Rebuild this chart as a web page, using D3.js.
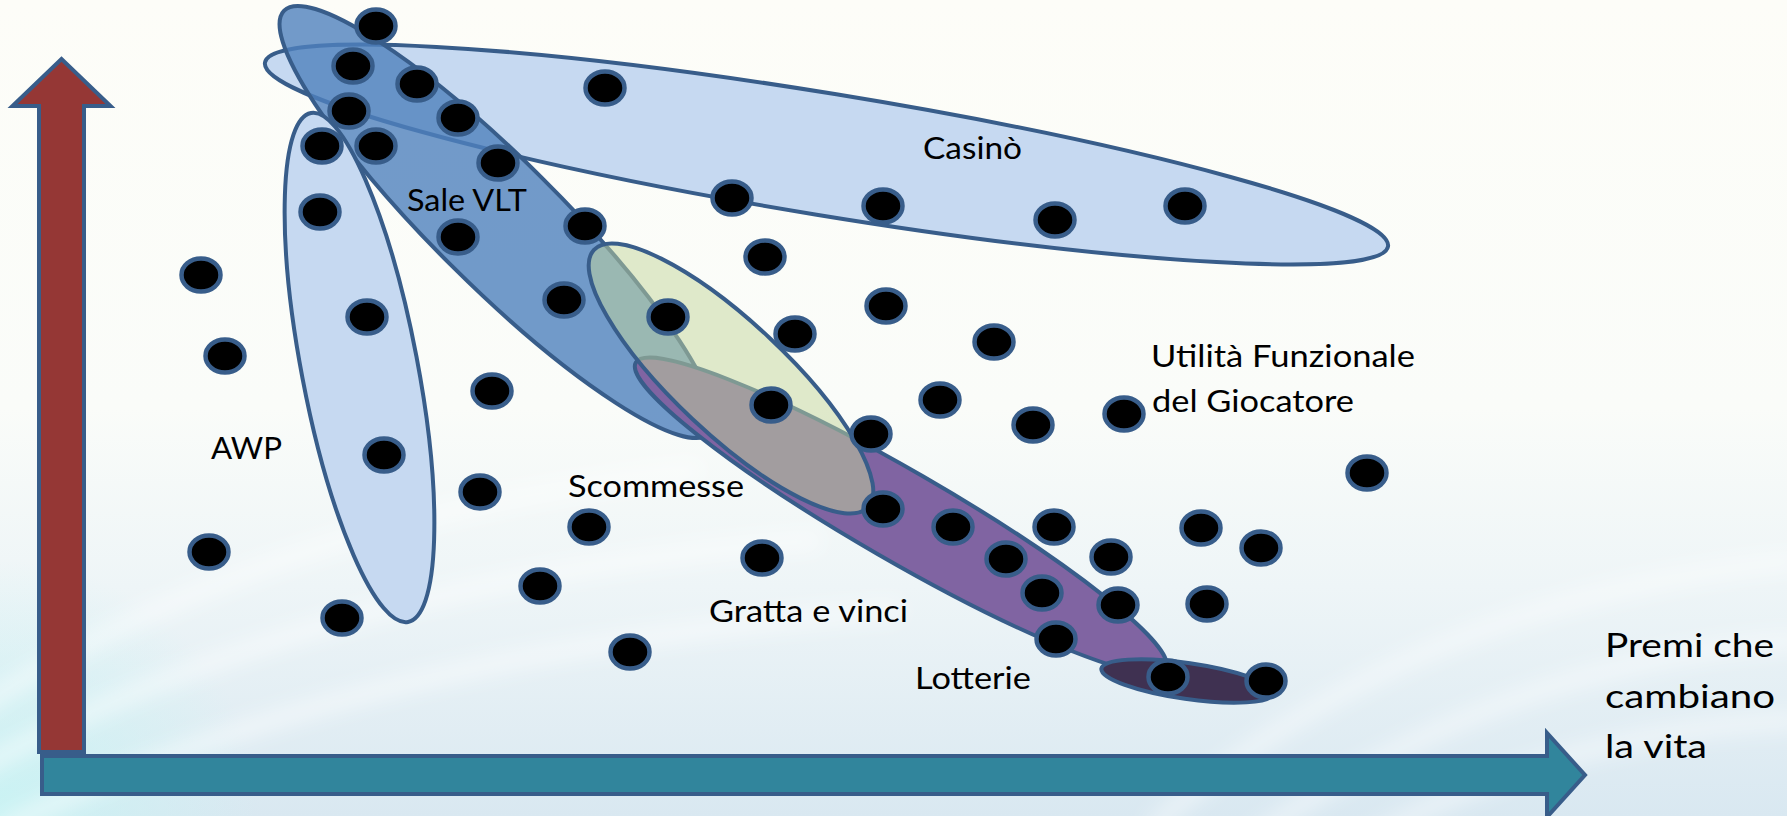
<!DOCTYPE html>
<html>
<head>
<meta charset="utf-8">
<script src="https://cdn.jsdelivr.net/npm/d3@7"></script>
<style>
  html, body { margin: 0; padding: 0; background: #fdfdf9; }
  svg { display: block; }
  text { font-family: Lato, "Open Sans", sans-serif; fill: #000; }
</style>
</head>
<body>
<svg id="chart" width="1787" height="816"></svg>
<script>
// ---- Data -----------------------------------------------------------------
// Each dot is a game offer: prize size (x) against functional utility for the player (y).
const dotPrize = [336, 313, 377, 309, 418, 282, 336, 458, 280, 418, 545, 565, 692, 843, 1015, 1145,
                  161, 725, 524, 628, 327, 755, 846, 954, 185, 452, 731, 900, 993, 1084, 831, 344,
                  1327, 440, 843, 549, 913, 1014, 1161, 169, 722, 966, 1071, 1221, 500, 1002, 1078,
                  1167, 302, 1016, 590, 1128, 1226];
const dotUtility = [749, 709, 691, 664, 657, 629, 629, 612, 563, 538, 549, 687, 577, 569, 555, 569,
                    500, 518, 475, 458, 458, 441, 469, 433, 419, 384, 370, 375, 350, 361, 341, 320,
                    302, 283, 266, 248, 248, 248, 247, 223, 217, 216, 218, 227, 189, 182, 170,
                    171, 157, 136, 123, 98, 94];

// Game families: cluster centre, half-extent along / across the cluster, tilt (degrees clockwise).
const groupNames  = ["Casinò", "Sale VLT", "AWP", "Lotterie", "Jackpot", "Scommesse"];
const groupCx     = [786.5, 457, 319.5, 860.8, 1147.5, 691];
const groupCy     = [620.5, 553, 407.5, 259.5, 94, 396.5];
const groupAlong  = [569, 300, 259, 306, 87, 188];
const groupAcross = [61, 63, 58, 45, 18, 56];
const groupTilt   = [9.3, 44.8, 79.2, 30, 8.2, 43.2];

// Text placed on the diagram
const labelTexts = ["Casinò", "Sale VLT", "AWP", "Scommesse", "Gratta e vinci", "Lotterie",
                    "Utilità Funzionale", "del Giocatore"];
const axisTitleLines = ["Premi che", "cambiano", "la vita"];

// ---- Layout ---------------------------------------------------------------
const W = 1787, H = 816;
const svg = d3.select("#chart");
const x = d3.scaleLinear().domain([0, 1550]).range([40, 1590]);
const y = d3.scaleLinear().domain([0, 720]).range([775, 55]);

const outline = "#385d8a";
const groupStyle = {
  "Casinò":    { fill: "#c6d9f1", opacity: 1 },
  "Sale VLT":  { fill: "#4f81bd", opacity: 0.8 },
  "AWP":       { fill: "#c6d9f1", opacity: 1 },
  "Lotterie":  { fill: "#8064a2", opacity: 1 },
  "Jackpot":   { fill: "#3f3151", opacity: 1 },
  "Scommesse": { fill: "#c3d69b", opacity: 0.5 }
};

// label anchor (data units, baseline) and rendered width in px
const labelLayout = [
  { px: 883,  py: 616, w: 99 },
  { px: 367,  py: 564, w: 120 },
  { px: 171,  py: 316, w: 71 },
  { px: 528,  py: 278, w: 176 },
  { px: 669,  py: 153, w: 199 },
  { px: 875,  py: 86,  w: 116 },
  { px: 1111, py: 408, w: 264 },
  { px: 1112, py: 363, w: 202 }
];
const axisTitleLayout = [
  { px: 1565, py: 118, w: 169 },
  { px: 1565, py: 67,  w: 170 },
  { px: 1565, py: 17,  w: 102 }
];

// ---- Background -------------------------------------------------------------
const defs = svg.append("defs");
const bg = defs.append("linearGradient").attr("id", "bg").attr("x1", 0).attr("y1", 0).attr("x2", 0).attr("y2", 1);
[[0, "#fdfdf8"], [0.5, "#fafcf9"], [0.72, "#eef5f7"], [1, "#d9e8f1"]]
  .forEach(([o, c]) => bg.append("stop").attr("offset", o).attr("stop-color", c));
const glow = defs.append("radialGradient").attr("id", "glow").attr("cx", 0).attr("cy", 1).attr("r", 1);
glow.append("stop").attr("offset", 0).attr("stop-color", "#c8f4f4").attr("stop-opacity", 0.9);
glow.append("stop").attr("offset", 1).attr("stop-color", "#c8f4f4").attr("stop-opacity", 0);
defs.append("filter").attr("id", "soft").attr("x", "-20%").attr("y", "-20%").attr("width", "140%").attr("height", "140%")
  .append("feGaussianBlur").attr("stdDeviation", 10);

svg.append("rect").attr("width", W).attr("height", H).attr("fill", "url(#bg)");
svg.append("rect").attr("x", 0).attr("y", 560).attr("width", 260).attr("height", 256).attr("fill", "url(#glow)");
const streaks = svg.append("g").attr("filter", "url(#soft)").attr("fill", "none").attr("stroke", "#ffffff");
[
  "M -40 720 Q 250 520 700 470", "M -40 780 Q 300 580 820 540", "M 0 830 Q 350 650 900 610",
  "M 1150 830 Q 1400 600 1800 560", "M 1250 840 Q 1500 660 1800 640", "M 1350 850 Q 1550 730 1800 720"
].forEach((d, i) => streaks.append("path").attr("d", d).attr("stroke-width", 16).attr("stroke-opacity", i < 3 ? 0.55 : 0.5));

// ---- Axes (block arrows) ----------------------------------------------------
const ox = x(0), oy = y(0);
const vx = ox + 21.5;
const vArrow = d3.path();
vArrow.moveTo(vx - 22.5, oy - 23);
vArrow.lineTo(vx - 22.5, y(669));
vArrow.lineTo(vx - 49, y(669));
vArrow.lineTo(vx, y(716));
vArrow.lineTo(vx + 49, y(669));
vArrow.lineTo(vx + 22.5, y(669));
vArrow.lineTo(vx + 22.5, oy - 23);
vArrow.closePath();
svg.append("path").attr("d", vArrow.toString()).attr("fill", "#953735")
  .attr("stroke", outline).attr("stroke-width", 4);

const hArrow = d3.path();
hArrow.moveTo(ox + 2, oy - 19);
hArrow.lineTo(x(1507), oy - 19);
hArrow.lineTo(x(1507), oy - 42);
hArrow.lineTo(x(1545), oy);
hArrow.lineTo(x(1507), oy + 42);
hArrow.lineTo(x(1507), oy + 19);
hArrow.lineTo(ox + 2, oy + 19);
hArrow.closePath();
svg.append("path").attr("d", hArrow.toString()).attr("fill", "#31859c")
  .attr("stroke", outline).attr("stroke-width", 4);

// ---- Game families ------------------------------------------------------------
const groups = groupNames.map((name, i) => ({
  name, cx: groupCx[i], cy: groupCy[i], along: groupAlong[i], across: groupAcross[i], tilt: groupTilt[i]
}));
svg.append("g").selectAll("ellipse").data(groups).join("ellipse")
  .attr("transform", d => `translate(${x(d.cx)},${y(d.cy)}) rotate(${d.tilt})`)
  .attr("rx", d => x(d.cx + d.along) - x(d.cx))
  .attr("ry", d => y(d.cy - d.across) - y(d.cy))
  .attr("fill", d => groupStyle[d.name].fill)
  .attr("fill-opacity", d => groupStyle[d.name].opacity)
  .attr("stroke", outline).attr("stroke-width", 4);

// ---- Dots -------------------------------------------------------------------
const dots = dotPrize.map((p, i) => ({ p, u: dotUtility[i] }));
svg.append("g").selectAll("ellipse").data(dots).join("ellipse")
  .attr("cx", d => x(d.p)).attr("cy", d => y(d.u))
  .attr("rx", 19.5).attr("ry", 16.5)
  .attr("fill", "#000").attr("stroke", outline).attr("stroke-width", 4.5);

// ---- Labels -----------------------------------------------------------------
svg.append("g").selectAll("text").data(labelTexts).join("text")
  .attr("x", (d, i) => x(labelLayout[i].px)).attr("y", (d, i) => y(labelLayout[i].py))
  .attr("font-size", 31.5)
  .attr("textLength", (d, i) => labelLayout[i].w).attr("lengthAdjust", "spacingAndGlyphs")
  .text(d => d);

svg.append("g").selectAll("text").data(axisTitleLines).join("text")
  .attr("x", (d, i) => x(axisTitleLayout[i].px)).attr("y", (d, i) => y(axisTitleLayout[i].py))
  .attr("font-size", 32)
  .attr("textLength", (d, i) => axisTitleLayout[i].w).attr("lengthAdjust", "spacingAndGlyphs")
  .text(d => d);
</script>
</body>
</html>
